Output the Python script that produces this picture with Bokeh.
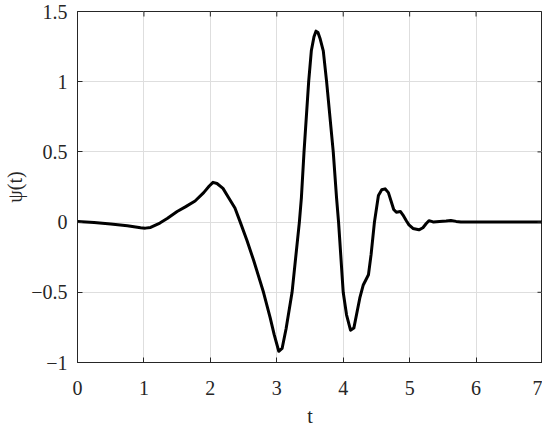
import math
from bokeh.plotting import figure
from bokeh.models import Range1d, FixedTicker
from bokeh.embed import file_html
from bokeh.resources import INLINE

# ---- data ----
t_vals = [0, 0.25, 0.5, 0.75, 0.95, 1.02, 1.1, 1.24, 1.35, 1.5,
          1.63, 1.77, 1.9, 1.98, 2.04, 2.1, 2.19, 2.28, 2.37, 2.45,
          2.55, 2.65, 2.8, 2.9, 2.96, 3.03, 3.08, 3.14, 3.23, 3.34,
          3.37, 3.41, 3.48, 3.52, 3.56, 3.59, 3.62, 3.65, 3.70, 3.75,
          3.85, 3.90, 3.93, 4.00, 4.05, 4.11, 4.16, 4.20, 4.25, 4.30,
          4.38, 4.42, 4.47, 4.53, 4.58, 4.63, 4.68, 4.72, 4.76, 4.80,
          4.86, 4.90, 4.95, 4.99, 5.05, 5.14, 5.20, 5.25, 5.29, 5.33,
          5.36, 5.45, 5.55, 5.62, 5.70, 5.77, 6.0, 6.5, 7.0]
psi_vals = [0.005, -0.003, -0.014, -0.026, -0.040, -0.043, -0.038, -0.007, 0.025, 0.075,
            0.11, 0.15, 0.21, 0.255, 0.283, 0.275, 0.24, 0.17, 0.10, 0.0,
            -0.13, -0.27, -0.5, -0.68, -0.80, -0.92, -0.90, -0.76, -0.5, 0.0,
            0.17, 0.5, 1.0, 1.22, 1.32, 1.36, 1.35, 1.31, 1.22, 1.0,
            0.5, 0.17, 0.0, -0.5, -0.66, -0.77, -0.755, -0.66, -0.54, -0.45,
            -0.375, -0.23, 0.0, 0.19, 0.23, 0.237, 0.21, 0.15, 0.09, 0.07,
            0.076, 0.05, 0.01, -0.02, -0.045, -0.055, -0.04, -0.01, 0.01, 0.005,
            0.0, 0.005, 0.008, 0.012, 0.005, 0.0, 0.0, 0.0, 0.0]

x_ticks = [0, 1, 2, 3, 4, 5, 6, 7]
y_ticks = [-1, -0.5, 0, 0.5, 1, 1.5]
y_tick_labels = ["\u22121", "\u22120.5", "0", "0.5", "1", "1.5"]
x_label = "t"
y_label = "\u03c8(t)"

FONT = "Liberation Serif, Times New Roman, serif"
DARK = "#262626"

x_min, x_max = x_ticks[0], x_ticks[-1]
y_min, y_max = y_ticks[0], y_ticks[-1]

p = figure(width=542, height=430, output_backend="svg", toolbar_location=None,
           x_range=Range1d(x_min, x_max), y_range=Range1d(y_min, y_max),
           min_border_left=77, min_border_right=0, min_border_top=11,
           min_border_bottom=68)
p.background_fill_color = "white"
p.border_fill_color = "white"
p.outline_line_color = DARK
p.outline_line_width = 1

p.xgrid.ticker = FixedTicker(ticks=x_ticks)
p.ygrid.ticker = FixedTicker(ticks=y_ticks)
p.grid.grid_line_color = "#dedede"
p.grid.grid_line_width = 1

p.line(t_vals, psi_vals, line_color="black", line_width=3, line_join="round")

# mirrored inward ticks on the top and right edges of the box
p.scatter(x_ticks, [y_max] * len(x_ticks), marker="dash", size=10,
          angle=math.pi / 2, line_color=DARK, line_width=1)
p.scatter([x_max] * len(y_ticks), y_ticks, marker="dash", size=10,
          line_color=DARK, line_width=1)

for ax in (p.xaxis[0], p.yaxis[0]):
    ax.axis_line_color = DARK
    ax.major_tick_line_color = DARK
    ax.major_tick_in = 5
    ax.major_tick_out = 0
    ax.minor_tick_line_color = None
    ax.major_label_text_font = FONT
    ax.major_label_text_font_size = "20px"
    ax.major_label_text_color = DARK
    ax.axis_label_text_font = FONT
    ax.axis_label_text_font_size = "20px"
    ax.axis_label_text_color = DARK
    ax.axis_label_text_font_style = "normal"

p.xaxis[0].ticker = FixedTicker(ticks=x_ticks)
p.yaxis[0].ticker = FixedTicker(ticks=y_ticks)
p.yaxis[0].major_label_overrides = {v: s for v, s in zip(y_ticks, y_tick_labels)}
p.xaxis[0].axis_label = x_label
p.yaxis[0].axis_label = y_label
p.xaxis[0].major_label_standoff = 18
p.xaxis[0].axis_label_standoff = 7
p.yaxis[0].major_label_standoff = 10
p.yaxis[0].axis_label_standoff = 2

open("out.html", "w").write(file_html(p, INLINE))
